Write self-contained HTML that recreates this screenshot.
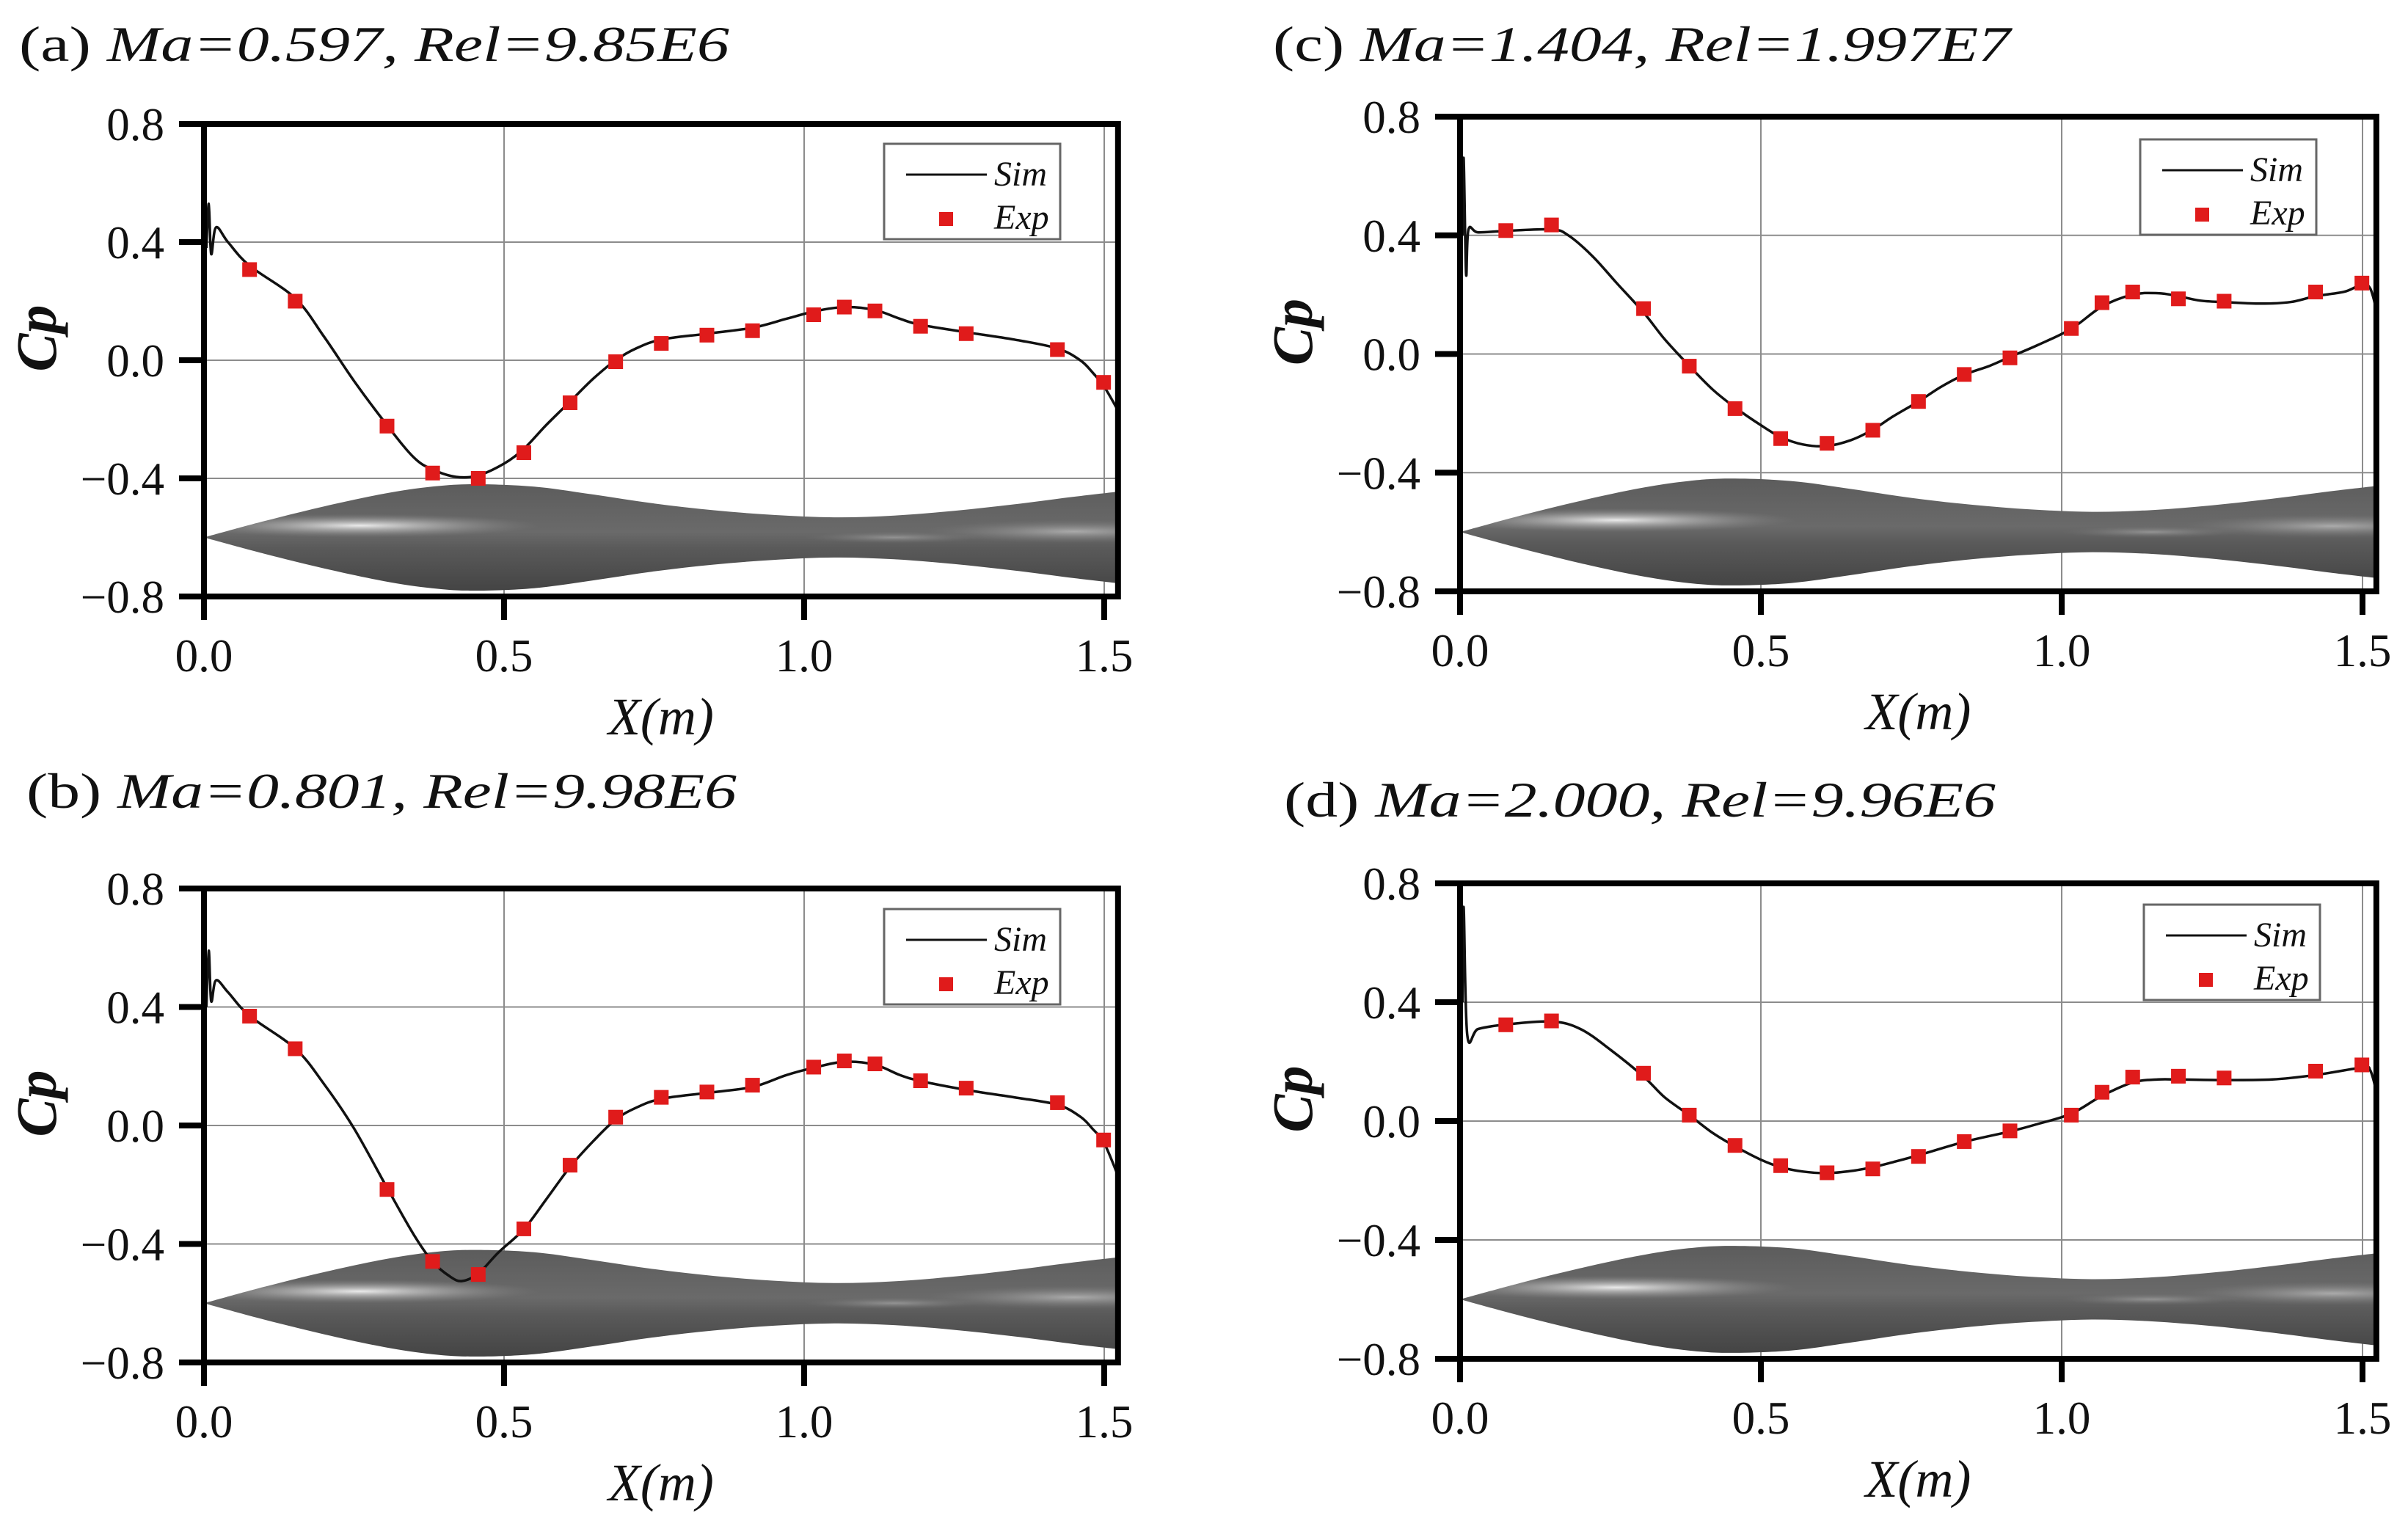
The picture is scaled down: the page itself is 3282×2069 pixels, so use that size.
<!DOCTYPE html>
<html><head><meta charset="utf-8"><title>Cp distributions</title>
<style>
html,body{margin:0;padding:0;background:#fff;}
svg{display:block;}
svg text{font-family:"Liberation Serif","Times New Roman",Times,serif !important;fill:#111;}
</style></head>
<body>
<svg id="fig" xmlns="http://www.w3.org/2000/svg" width="3282" height="2069" viewBox="0 0 3282 2069" font-family="Liberation Serif, Times New Roman, serif">
<defs>
<linearGradient id="bodyGrad" x1="0" y1="0" x2="0" y2="1">
<stop offset="0" stop-color="#5c5c5c"/>
<stop offset="0.45" stop-color="#6a6a6a"/>
<stop offset="0.6" stop-color="#5a5a5a"/>
<stop offset="1" stop-color="#444"/>
</linearGradient>
<radialGradient id="hl" cx="0.5" cy="0.5" r="0.5">
<stop offset="0" stop-color="#f2f2f2" stop-opacity="0.95"/>
<stop offset="0.5" stop-color="#bbb" stop-opacity="0.5"/>
<stop offset="1" stop-color="#888" stop-opacity="0"/>
</radialGradient>
</defs>
</svg>
<script>
// shared experiment x positions
const expX = [0.076,0.152,0.305,0.381,0.457,0.533,0.610,0.686,0.762,0.838,0.914,1.016,1.067,1.118,1.194,1.270,1.422,1.499];
const expA = [0.307,0.20,-0.223,-0.382,-0.40,-0.313,-0.144,-0.005,0.057,0.085,0.10,0.154,0.18,0.167,0.115,0.09,0.036,-0.075];
const expB = [0.369,0.259,-0.216,-0.459,-0.503,-0.349,-0.134,0.028,0.095,0.113,0.136,0.197,0.218,0.208,0.151,0.126,0.077,-0.049];
const expC = [0.416,0.435,0.153,-0.041,-0.184,-0.285,-0.301,-0.257,-0.160,-0.069,-0.013,0.086,0.173,0.209,0.186,0.178,0.209,0.239];
const expD = [0.324,0.337,0.161,0.02,-0.082,-0.150,-0.174,-0.161,-0.119,-0.069,-0.033,0.02,0.097,0.148,0.151,0.145,0.168,0.189];

const simAx = [0.004,0.008,0.012,0.02,0.04,0.076,0.152,0.2,0.25,0.305,0.35,0.381,0.42,0.457,0.5,0.533,0.57,0.61,0.65,0.686,0.72,0.762,0.838,0.914,0.97,1.016,1.067,1.118,1.16,1.194,1.27,1.35,1.422,1.46,1.48,1.5,1.523];
const simAy = [0.38,0.53,0.36,0.45,0.40,0.32,0.21,0.08,-0.07,-0.22,-0.33,-0.37,-0.395,-0.39,-0.35,-0.30,-0.22,-0.14,-0.06,0.0,0.04,0.07,0.09,0.11,0.14,0.165,0.18,0.17,0.14,0.12,0.095,0.07,0.04,0.0,-0.04,-0.09,-0.17];
const simBx = [0.004,0.008,0.012,0.02,0.04,0.076,0.152,0.2,0.25,0.305,0.35,0.381,0.41,0.43,0.457,0.49,0.533,0.57,0.61,0.65,0.686,0.72,0.762,0.838,0.914,0.97,1.016,1.067,1.118,1.16,1.194,1.27,1.35,1.422,1.46,1.48,1.5,1.523];
const simBy = [0.40,0.59,0.42,0.49,0.45,0.37,0.26,0.14,-0.01,-0.21,-0.37,-0.46,-0.51,-0.525,-0.50,-0.43,-0.35,-0.25,-0.14,-0.05,0.02,0.06,0.09,0.11,0.13,0.17,0.195,0.215,0.205,0.17,0.15,0.12,0.095,0.07,0.03,-0.01,-0.06,-0.17];
const simCx = [0.004,0.006,0.01,0.014,0.03,0.076,0.152,0.18,0.22,0.26,0.305,0.34,0.381,0.42,0.457,0.5,0.533,0.57,0.61,0.65,0.686,0.72,0.762,0.8,0.838,0.88,0.914,0.96,1.016,1.067,1.118,1.16,1.194,1.23,1.27,1.33,1.38,1.422,1.47,1.5,1.513,1.523];
const simCy = [0.40,0.66,0.27,0.42,0.41,0.415,0.42,0.40,0.33,0.24,0.14,0.05,-0.04,-0.12,-0.18,-0.24,-0.28,-0.305,-0.31,-0.29,-0.255,-0.21,-0.16,-0.11,-0.07,-0.04,-0.01,0.03,0.085,0.16,0.2,0.205,0.195,0.18,0.175,0.17,0.175,0.195,0.21,0.235,0.22,0.15];
const simDx = [0.004,0.006,0.012,0.03,0.076,0.152,0.2,0.25,0.305,0.34,0.381,0.42,0.457,0.5,0.533,0.57,0.61,0.65,0.686,0.72,0.762,0.838,0.914,0.96,1.016,1.067,1.118,1.16,1.194,1.27,1.35,1.422,1.5,1.513,1.523];
const simDy = [0.40,0.72,0.29,0.31,0.325,0.335,0.31,0.24,0.15,0.08,0.02,-0.04,-0.085,-0.13,-0.155,-0.17,-0.175,-0.168,-0.155,-0.138,-0.115,-0.07,-0.035,-0.01,0.025,0.085,0.13,0.14,0.14,0.138,0.14,0.155,0.18,0.17,0.10];

// body profile (radius in Cp units around centre -0.6)
const bodyX = [0,0.1,0.2,0.3,0.38,0.45,0.55,0.65,0.75,0.85,0.95,1.05,1.15,1.25,1.35,1.45,1.523];
const bodyR = [0,0.055,0.105,0.148,0.172,0.18,0.172,0.145,0.115,0.092,0.076,0.068,0.074,0.09,0.112,0.138,0.155];
const bodyC = -0.6;

const yTicks = [0.8,0.4,0.0,-0.4,-0.8];
const xTicks = [0.0,0.5,1.0,1.5];
const xTickLabels = ["0.0","0.5","1.0","1.5"];

const panels = [
 {id:'a', tag:'(a) ', title:'Ma=0.597, Rel=9.85E6', tx:26, ty:83, tw:968, left:278, x15:1505, top:169, bottom:813, lgx:1205, lgy:196, ex:expA, sx:simAx, sy:simAy},
 {id:'b', tag:'(b) ', title:'Ma=0.801, Rel=9.98E6', tx:36, ty:1101, tw:968, left:278, x15:1505, top:1211, bottom:1857, lgx:1205, lgy:1239, ex:expB, sx:simBx, sy:simBy},
 {id:'c', tag:'(c) ', title:'Ma=1.404, Rel=1.997E7', tx:1735, ty:83, tw:1005, left:1990, x15:3220, top:159, bottom:806, lgx:2917, lgy:190, ex:expC, sx:simCx, sy:simCy},
 {id:'d', tag:'(d) ', title:'Ma=2.000, Rel=9.96E6', tx:1750, ty:1113, tw:970, left:1990, x15:3220, top:1204, bottom:1852, lgx:2922, lgy:1233, ex:expD, sx:simDx, sy:simDy}
];

const NS = 'http://www.w3.org/2000/svg';
const svg = document.getElementById('fig');
function mk(tag, attrs, parent){const e=document.createElementNS(NS,tag);for(const k in attrs)e.setAttribute(k,attrs[k]);(parent||svg).appendChild(e);return e;}
function catmull(pts){
  let d='M'+pts[0][0].toFixed(1)+','+pts[0][1].toFixed(1);
  for(let i=0;i<pts.length-1;i++){
    const p0=pts[Math.max(0,i-1)],p1=pts[i],p2=pts[i+1],p3=pts[Math.min(pts.length-1,i+2)];
    const c1=[p1[0]+(p2[0]-p0[0])/6,p1[1]+(p2[1]-p0[1])/6];
    const c2=[p2[0]-(p3[0]-p1[0])/6,p2[1]-(p3[1]-p1[1])/6];
    d+=' C'+c1[0].toFixed(1)+','+c1[1].toFixed(1)+' '+c2[0].toFixed(1)+','+c2[1].toFixed(1)+' '+p2[0].toFixed(1)+','+p2[1].toFixed(1);
  }
  return d;
}

panels.forEach(p=>{
  const g = mk('g',{});
  
  
  const sx = v => p.left + v*(p.x15-p.left)/1.5;
  const sy = v => p.top + (0.8-v)*(p.bottom-p.top)/1.6;
  const right = sx(1.523);
  const clipId='clip'+p.id;
  const cp=mk('clipPath',{id:clipId},g);
  mk('rect',{x:p.left,y:p.top,width:right-p.left,height:p.bottom-p.top},cp);

  // title
  const t = mk('text',{x:p.tx,y:p.ty,'font-size':68,textLength:p.tw,lengthAdjust:'spacingAndGlyphs'},g);
  
  
  const t1=mk('tspan',{},t); t1.textContent=p.tag;
  const t2=mk('tspan',{'font-style':'italic'},t); t2.textContent=p.title;

  // grid
  xTicks.forEach(v=>{ if(v>0){const l=mk('line',{x1:sx(v),x2:sx(v),y1:p.top,y2:p.bottom,stroke:'#8c8c8c','stroke-width':2},g);
     }});
  yTicks.forEach(v=>{ if(v<0.8&&v>-0.8){const l=mk('line',{x1:p.left,x2:right,y1:sy(v),y2:sy(v),stroke:'#8c8c8c','stroke-width':2},g);
     }});

  // body
  const top=bodyX.map((x,i)=>[sx(x),sy(bodyC+bodyR[i])]);
  const bot=bodyX.map((x,i)=>[sx(x),sy(bodyC-bodyR[i])]).reverse();
  let bd=catmull(top)+' L'+bot[0][0].toFixed(1)+','+bot[0][1].toFixed(1)+catmull(bot).replace(/^M[^C]*/,' ')+' Z';
  const bclip='bclip'+p.id;
  const bcp=mk('clipPath',{id:bclip},g);
  mk('path',{d:bd},bcp);
  const bg=mk('g',{'clip-path':'url(#'+clipId+')'},g);
  const body=mk('path',{d:bd,fill:'url(#bodyGrad)'},bg);
  
  
  const hlg=mk('g',{'clip-path':'url(#'+bclip+')'},bg);
  mk('ellipse',{cx:sx(0.26),cy:sy(-0.56),rx:sx(0.3)-sx(0),ry:(sy(-0.6)-sy(-0.56)),fill:'url(#hl)'},hlg);
  mk('ellipse',{cx:sx(1.45),cy:sy(-0.58),rx:sx(0.25)-sx(0),ry:(sy(-0.6)-sy(-0.56)),fill:'url(#hl)',opacity:0.5},hlg);
  mk('ellipse',{cx:sx(1.15),cy:sy(-0.6),rx:sx(0.15)-sx(0),ry:(sy(-0.6)-sy(-0.58)),fill:'url(#hl)',opacity:0.35},hlg);

  // sim line
  const pts=p.sx.map((x,i)=>[sx(x),sy(p.sy[i])]);
  const sim=mk('path',{d:catmull(pts),fill:'none',stroke:'#111','stroke-width':3.5,'clip-path':'url(#'+clipId+')'},g);
  
  

  // exp markers
  expX.forEach((x,i)=>{
    const r=mk('rect',{x:sx(x)-10,y:sy(p.ex[i])-10,width:20,height:20,fill:'#e01b1b'},g);
    
    
  });

  // legend
  const lg=mk('g',{},g);
  
  
  mk('rect',{x:p.lgx,y:p.lgy,width:240,height:130,fill:'#fff',stroke:'#666','stroke-width':3},lg);
  const ll=mk('line',{x1:p.lgx+30,x2:p.lgx+140,y1:p.lgy+42,y2:p.lgy+42,stroke:'#111','stroke-width':3},lg);
  
  
  const ls=mk('text',{x:p.lgx+150,y:p.lgy+57,'font-size':48,'font-style':'italic'},lg); ls.textContent='Sim';
  
  
  const lm=mk('rect',{x:p.lgx+75,y:p.lgy+93,width:19,height:19,fill:'#e01b1b'},lg);
  
  
  const le=mk('text',{x:p.lgx+150,y:p.lgy+116,'font-size':48,'font-style':'italic'},lg); le.textContent='Exp';
  
  

  // frame
  const fr=mk('rect',{x:p.left,y:p.top,width:right-p.left,height:p.bottom-p.top,fill:'none',stroke:'#000','stroke-width':8},g);
  
  

  // y ticks
  yTicks.forEach(v=>{
    mk('line',{x1:p.left-34,x2:p.left,y1:sy(v),y2:sy(v),stroke:'#000','stroke-width':8},g);
    const tl=mk('text',{x:p.left-54,y:sy(v)+22,'font-size':63,'text-anchor':'end'},g);
    tl.textContent=(v<0?'\u2212':'')+Math.abs(v).toFixed(1);
    
    
  });
  // x ticks
  xTicks.forEach((v,i)=>{
    mk('line',{x1:sx(v),x2:sx(v),y1:p.bottom,y2:p.bottom+32,stroke:'#000','stroke-width':8},g);
    const tl=mk('text',{x:sx(v),y:p.bottom+102,'font-size':63,'text-anchor':'middle'},g);
    tl.textContent=xTickLabels[i];
    
    
  });
  // axis titles
  const xt=mk('text',{x:(p.left+right)/2,y:p.bottom+188,'font-size':72,'font-style':'italic','text-anchor':'middle'},g);
  xt.textContent='X(m)';
  
  
  const cy=(p.top+p.bottom)/2-30;
  const yt=mk('text',{x:p.left-202,y:cy,'font-size':78,'font-style':'italic','font-weight':'bold','text-anchor':'middle',transform:'rotate(-90 '+(p.left-202)+' '+cy+')'},g);
  yt.textContent='Cp';
  
  
});
</script>
</body></html>
